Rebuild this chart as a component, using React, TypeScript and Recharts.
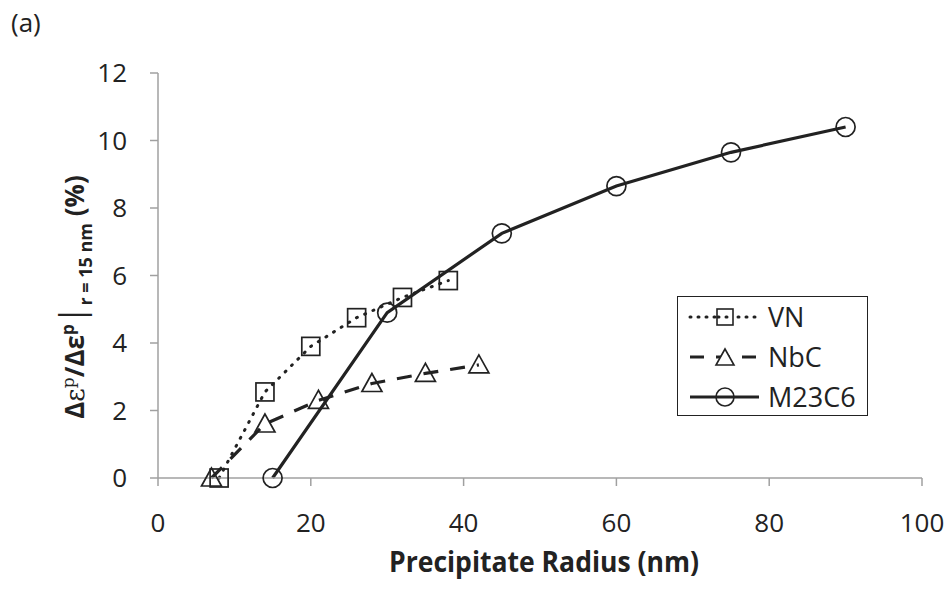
import React from "react";
import { LineChart, Line, XAxis, YAxis, Legend } from "recharts";

// VN, NbC and M23C6 series: precipitate radius (nm) vs relative change (%)
const vnRadius = [8, 14, 20, 26, 32, 38];
const vnValues = [0, 2.55, 3.9, 4.75, 5.35, 5.85];

const nbcRadius = [7, 14, 21, 28, 35, 42];
const nbcValues = [0, 1.6, 2.3, 2.8, 3.1, 3.35];

const m23Radius = [15, 30, 45, 60, 75, 90];
const m23Values = [0, 4.9, 7.25, 8.65, 9.65, 10.4];

const xTicks = [0, 20, 40, 60, 80, 100];
const yTicks = [0, 2, 4, 6, 8, 10, 12];

const seriesNames = ["VN", "NbC", "M23C6"];

const toPoints = (xs: number[], ys: number[]) => xs.map((x, i) => ({ x, y: ys[i] }));

const vnData = toPoints(vnRadius, vnValues);
const nbcData = toPoints(nbcRadius, nbcValues);
const m23Data = toPoints(m23Radius, m23Values);

const INK = "#222";
const AXIS = "#a0a0a0";
const FONT = "'Open Sans', sans-serif";

const SquareDot = (props: any) => {
  const { cx, cy } = props;
  if (cx == null || cy == null) return null;
  return <rect x={cx - 9} y={cy - 9} width={18} height={18} fill="none" stroke={INK} strokeWidth={1.7} />;
};

const TriangleDot = (props: any) => {
  const { cx, cy } = props;
  if (cx == null || cy == null) return null;
  return (
    <polygon
      points={`${cx},${cy - 10} ${cx - 10},${cy + 8} ${cx + 10},${cy + 8}`}
      fill="none"
      stroke={INK}
      strokeWidth={1.7}
    />
  );
};

const CircleDot = (props: any) => {
  const { cx, cy } = props;
  if (cx == null || cy == null) return null;
  return <circle cx={cx} cy={cy} r={9.5} fill="none" stroke={INK} strokeWidth={1.7} />;
};

const XTitle = () => (
  <text
    x={544}
    y={572}
    textAnchor="middle"
    fontFamily={FONT}
    fontWeight="bold"
    fontSize={28}
    fill={INK}
    textLength={310}
    lengthAdjust="spacingAndGlyphs"
  >
    Precipitate Radius (nm)
  </text>
);

const YTitle = () => (
  <text
    x={84}
    y={297}
    transform="rotate(-90, 84, 297)"
    textAnchor="middle"
    fontFamily={FONT}
    fontWeight="bold"
    fontSize={26}
    fill={INK}
  >
    <tspan>Δ</tspan>
    <tspan fontFamily="'DejaVu Serif', serif" fontWeight="normal">ε</tspan>
    <tspan fontFamily="'DejaVu Serif', serif" fontWeight="normal" fontSize={17} dy={-10}>p</tspan>
    <tspan dy={10}>/Δε</tspan>
    <tspan fontSize={17} dy={-10}>p</tspan>
    <tspan dy={10} fontWeight="normal" fontSize={34}>|</tspan>
    <tspan fontSize={18} dy={8}>r = 15 nm</tspan>
    <tspan dy={-8}> (%)</tspan>
  </text>
);

const legendSample = [
  { dash: "1 7", marker: "square" },
  { dash: "14 12", marker: "triangle" },
  { dash: undefined, marker: "circle" },
];

const LegendBox = () => (
  <div
    style={{
      width: 189,
      height: 118,
      border: `1.6px solid ${INK}`,
      background: "#fff",
      fontFamily: FONT,
      fontSize: 27,
      color: INK,
    }}
  >
    {seriesNames.map((name, i) => (
      <div key={name} style={{ height: 40, display: "flex", alignItems: "center" }}>
        <svg width={88} height={40} style={{ display: "block" }}>
          <line
            x1={12}
            x2={81}
            y1={20}
            y2={20}
            stroke={INK}
            strokeWidth={3}
            strokeDasharray={legendSample[i].dash}
            strokeLinecap={i === 0 ? "round" : "butt"}
          />
          {legendSample[i].marker === "square" && (
            <rect x={39} y={12} width={16} height={16} fill="#fff" stroke={INK} strokeWidth={1.6} />
          )}
          {legendSample[i].marker === "triangle" && (
            <polygon points="47,12 38,28 56,28" fill="#fff" stroke={INK} strokeWidth={1.6} />
          )}
          {legendSample[i].marker === "circle" && (
            <circle cx={47} cy={20} r={9} fill="none" stroke={INK} strokeWidth={1.6} />
          )}
          {legendSample[i].marker === "square" && (
            <line x1={40} x2={54} y1={20} y2={20} stroke={INK} strokeWidth={3} strokeDasharray="1 7" strokeLinecap="round" />
          )}
        </svg>
        <span style={{ marginLeft: 2, lineHeight: "40px" }}>{name}</span>
      </div>
    ))}
  </div>
);

export default function App() {
  return (
    <div style={{ position: "absolute", left: 0, top: 0, width: 949, height: 590, background: "#fff" }}>
      <div
        style={{
          position: "absolute",
          left: 11,
          top: 9,
          fontFamily: FONT,
          fontSize: 26,
          lineHeight: "26px",
          color: INK,
        }}
      >
        (a)
      </div>
      <LineChart width={949} height={590} margin={{ top: 73, right: 27, bottom: 52, left: 58 }}>
        <XAxis
          dataKey="x"
          type="number"
          domain={[0, 100]}
          ticks={xTicks}
          stroke={AXIS}
          strokeWidth={1.5}
          tickSize={8}
          tickMargin={28}
          height={60}
          tick={{ fontSize: 26, fill: INK, fontFamily: FONT }}
          label={<XTitle />}
        />
        <YAxis
          type="number"
          domain={[0, 12]}
          ticks={yTicks}
          stroke={AXIS}
          strokeWidth={1.5}
          tickSize={8}
          tickMargin={23}
          width={100}
          tick={{ fontSize: 26, fill: INK, fontFamily: FONT }}
          label={<YTitle />}
        />
        <Line
          data={vnData}
          dataKey="y"
          name="VN"
          stroke={INK}
          strokeWidth={3}
          strokeDasharray="1 8"
          strokeLinecap="round"
          dot={<SquareDot />}
          activeDot={false}
          isAnimationActive={false}
        />
        <Line
          data={nbcData}
          dataKey="y"
          name="NbC"
          stroke={INK}
          strokeWidth={3.2}
          strokeDasharray="15 12"
          dot={<TriangleDot />}
          activeDot={false}
          isAnimationActive={false}
        />
        <Line
          data={m23Data}
          dataKey="y"
          name="M23C6"
          stroke={INK}
          strokeWidth={3.2}
          dot={<CircleDot />}
          activeDot={false}
          isAnimationActive={false}
        />
        <Legend
          layout="horizontal"
          verticalAlign="middle"
          align="center"
          content={<LegendBox />}
          wrapperStyle={{ left: 677, top: 296, width: "auto" }}
        />
      </LineChart>
    </div>
  );
}
